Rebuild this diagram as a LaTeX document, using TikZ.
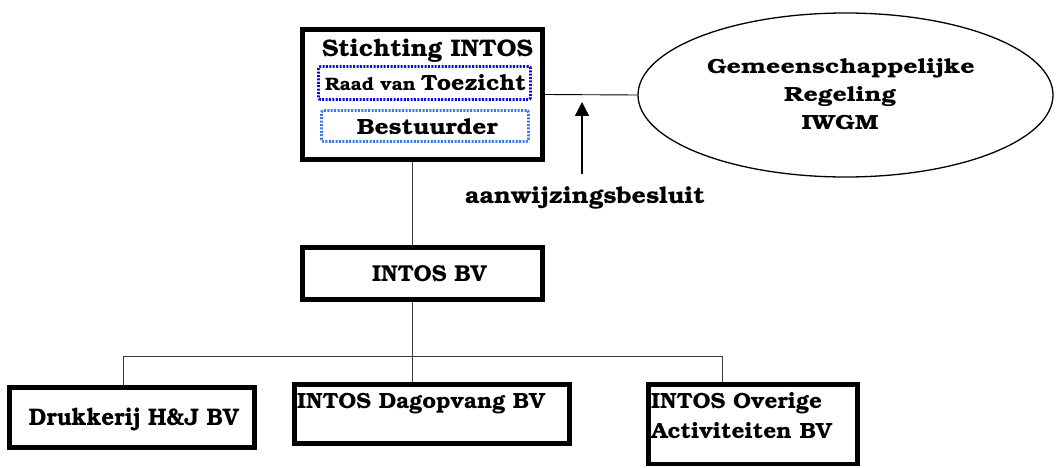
\documentclass[tikz,border=0pt]{standalone}
\usepackage[T1]{fontenc}
\usepackage{bookman}
\usetikzlibrary{shapes.geometric,arrows.meta}
\definecolor{raadblue}{RGB}{10,10,225}
\definecolor{bestblue}{RGB}{60,120,235}
\definecolor{conn}{RGB}{60,60,60}
\newcommand{\stretchtxt}[3]{\resizebox{#1pt}{\height}{\fontsize{#2}{#2}\selectfont #3}}
\tikzset{
  thickbox/.style={draw=black, line width=4.6pt, inner sep=0pt, fill=white},
  dotbox/.style={line width=2.8pt, dash pattern=on 2pt off 1.4pt, rounded corners=2pt, inner sep=0pt},
  lbl/.style={inner sep=0pt, anchor=base, font=\bfseries},
  connector/.style={draw=conn, line width=0.9pt},
}
\begin{document}
\begin{tikzpicture}[x=1pt,y=-1pt]
\useasboundingbox (0,0) rectangle (1057,468);
% boxes
\node[thickbox, minimum width=240pt, minimum height=130pt] (top) at (422.5,94.5) {};
\node[dotbox, draw=raadblue, minimum width=212pt, minimum height=33pt] (raad) at (424.5,83) {};
\node[dotbox, draw=bestblue, minimum width=207pt, minimum height=31pt] (best) at (425,126) {};
\node[thickbox, minimum width=240pt, minimum height=52pt] (intosbv) at (422.5,273.5) {};
\node[thickbox, minimum width=245pt, minimum height=60pt] (druk) at (132,417.5) {};
\node[thickbox, minimum width=275pt, minimum height=59pt] (dag) at (432,414) {};
\node[thickbox, minimum width=209pt, minimum height=79.5pt] (over) at (753,424.25) {};
\node[ellipse, draw=black, line width=1.3pt, minimum width=415pt, minimum height=164pt, inner sep=0pt] (ell) at (845.5,95) {};
% texts
\node[lbl] (tstich) at (427.5,57) {\stretchtxt{211}{24}{Stichting INTOS}};
\node[lbl] (traad) at (425.5,91) {\resizebox{201pt}{\height}{{\fontsize{18}{18}\selectfont Raad van}\hspace{5pt}{\fontsize{22}{22}\selectfont Toezicht}}};
\node[lbl] (tbest) at (427.5,135) {\stretchtxt{141}{22}{Bestuurder}};
\node[lbl] (tell1) at (841,74) {\stretchtxt{268}{20.5}{Gemeenschappelijke}};
\node[lbl] (tell2) at (840,102) {\stretchtxt{112}{20.5}{Regeling}};
\node[lbl] (tell3) at (840,130) {\stretchtxt{77}{20.5}{IWGM}};
\node[lbl] (taanw) at (585,203) {\stretchtxt{240}{23}{aanwijzingsbesluit}};
\node[lbl] (tintos) at (429.5,281) {\stretchtxt{115}{23}{INTOS BV}};
\node[lbl] (tdruk) at (134,425) {\stretchtxt{210}{24}{Drukkerij H\&J BV}};
\node[lbl, anchor=base west] (tdag) at (297,408) {\stretchtxt{248}{22}{INTOS Dagopvang BV}};
\node[lbl, anchor=base west] (tover1) at (651,408) {\stretchtxt{171}{22}{INTOS Overige}};
\node[lbl, anchor=base west] (tover2) at (651,438) {\stretchtxt{181}{22}{Activiteiten BV}};
% connectors
\coordinate (j) at (412.5,356);
\coordinate (jl) at (123,356);
\coordinate (jr) at (722,356);
\coordinate (abase) at (582,174);
\coordinate (atip) at (582,102);
\draw[connector] (j |- top.south) -- (j |- intosbv.north);
\draw[connector] (j |- intosbv.south) -- (j);
\draw[connector] (jl) -- (jl |- druk.north);
\draw[connector] (jl) -- (jr);
\draw[connector] (j) -- (j |- dag.north);
\draw[connector] (jr) -- (jr |- over.north);
\draw[connector, draw=black] (top.east) -- (ell.west);
\draw[line width=1.4pt, -{Triangle[width=14pt,length=14pt]}] (abase) -- (atip);
\end{tikzpicture}
\end{document}
